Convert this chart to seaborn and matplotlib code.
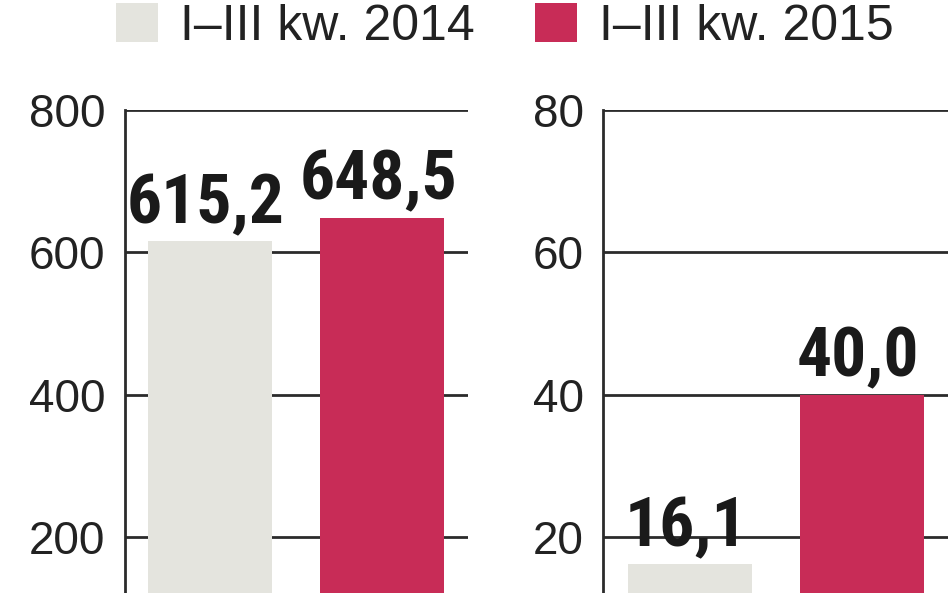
import matplotlib
matplotlib.use("Agg")
import matplotlib.pyplot as plt
from matplotlib import font_manager
from matplotlib.patches import Patch
import seaborn as sns
import pandas as pd

# ---- data ----
periods = ["I–III kw. 2014", "I–III kw. 2015"]
left_values = [615.2, 648.5]
right_values = [16.1, 40.0]
left_ticks = [200, 400, 600, 800]
right_ticks = [20, 40, 60, 80]
colors = ["#E4E4DE", "#C82C57"]

sns.set_theme(style="white")

names = {f.name for f in font_manager.fontManager.ttflist}
def pick(cands):
    for c in cands:
        if c in names:
            return c
    return "DejaVu Sans"

narrow = pick(["Liberation Sans Narrow", "Roboto Condensed", "Open Sans Condensed", "Liberation Sans"])
regular = pick(["Liberation Sans", "Roboto", "DejaVu Sans"])
plt.rcParams["font.family"] = [regular, "DejaVu Sans"]

fig = plt.figure(figsize=(9.48, 5.93), dpi=100)
fig.patch.set_facecolor("white")

W, H = 948, 593
bottom = (H - 679) / H
height = (679 - 110) / H

ax1 = fig.add_axes([125 / W, bottom, 343 / W, height])
ax2 = fig.add_axes([603 / W, bottom, 347 / W, height])

panels = [
    (ax1, left_values, left_ticks, (0, 800), (-0.493, 1.496)),
    (ax2, right_values, right_ticks, (0, 80), (-0.504, 1.508)),
]

dark = "#2b2b2b"
for ax, vals, ticks, ylim, xlim in panels:
    df = pd.DataFrame({"period": periods, "value": vals})
    sns.barplot(data=df, x="period", y="value", hue="period", palette=colors,
                hue_order=periods, order=periods, width=0.719, ax=ax,
                legend=False, saturation=1, edgecolor="none", linewidth=0)
    ax.set_ylim(*ylim)
    ax.set_xlim(*xlim)
    ax.set_yticks(ticks)
    ax.set_yticklabels([str(t) for t in ticks])
    ax.set_xticks([])
    ax.set_xlabel("")
    ax.set_ylabel("")
    ax.set_facecolor("white")
    for s in ["top", "right", "bottom"]:
        ax.spines[s].set_visible(False)
    ax.spines["left"].set_color(dark)
    ax.spines["left"].set_linewidth(2)
    ax.yaxis.grid(True, color=dark, linewidth=2)
    ax.set_axisbelow(True)
    ax.tick_params(axis="y", length=0, pad=14, labelsize=33, labelcolor="#222222")
    for lab in ax.get_yticklabels():
        lab.set_fontfamily([regular, "DejaVu Sans"])
    for i, v in enumerate(vals):
        ax.annotate(f"{v:.1f}".replace(".", ","), xy=(i, v), xytext=(-3, 13),
                    textcoords="offset points", ha="center", va="baseline",
                    fontsize=50, fontweight="bold", color="#1a1a1a",
                    family=[narrow, "DejaVu Sans"], annotation_clip=False)

handles = [Patch(facecolor=c, edgecolor="none") for c in colors]
leg = fig.legend(handles, periods, loc="upper left", bbox_to_anchor=(113 / W, 1.0),
                 ncol=2, frameon=False, fontsize=36, handlelength=0.84,
                 handleheight=0.84, handletextpad=0.45, columnspacing=1.2,
                 borderpad=0.05, borderaxespad=0)
for t in leg.get_texts():
    t.set_color("#222222")

fig.savefig("out.png", dpi=100, facecolor="white")
